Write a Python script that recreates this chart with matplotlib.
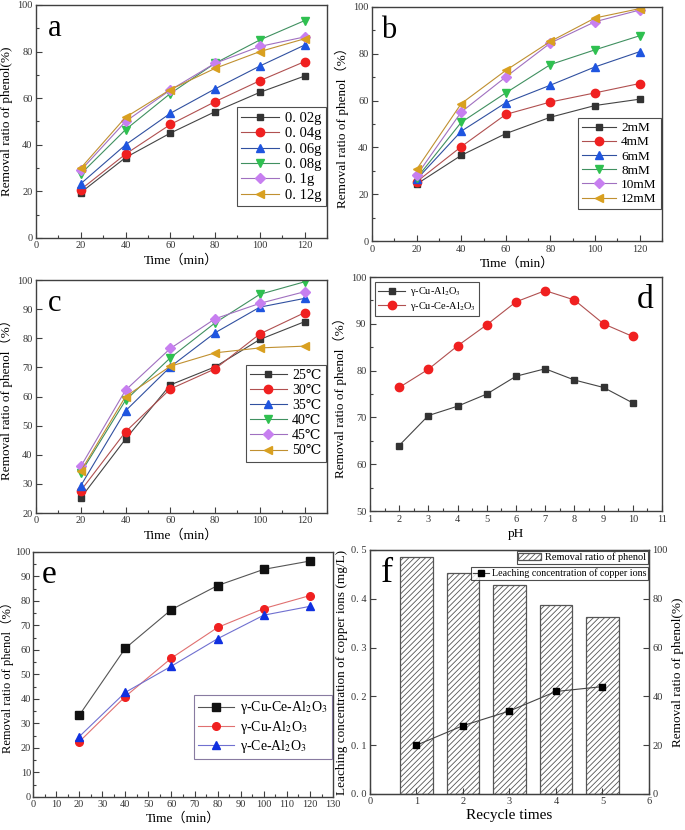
import numpy as np
import matplotlib
matplotlib.use("Agg")
import matplotlib.pyplot as plt
from matplotlib.ticker import MultipleLocator, FixedLocator

plt.rcParams['font.family'] = ['Liberation Serif', 'DejaVu Serif', 'Noto Sans CJK SC']
plt.rcParams['mathtext.fontset'] = 'stix'
plt.rcParams['hatch.linewidth'] = 0.6

# ---------------- data ----------------
time = [20, 40, 60, 80, 100, 120]

# a: catalyst dosage
dose_labels = ["0. 02g", "0. 04g", "0. 06g", "0. 08g", "0. 1g", "0. 12g"]
dose_vals = [
    [19.5, 34.5, 45.0, 54.2, 62.5, 69.5],
    [20.8, 36.0, 48.7, 58.5, 67.5, 75.7],
    [23.3, 40.0, 53.5, 64.0, 73.8, 82.8],
    [27.5, 46.5, 62.0, 75.0, 85.0, 93.3],
    [29.0, 50.0, 63.5, 75.0, 82.2, 86.3],
    [30.0, 51.8, 63.7, 72.8, 80.0, 85.5],
]

# b: H2O2 concentration
conc_labels = ["2mM", "4mM", "6mM", "8mM", "10mM", "12mM"]
conc_vals = [
    [24.3, 36.6, 45.9, 52.9, 57.9, 60.6],
    [25.3, 40.3, 54.1, 59.4, 63.3, 67.3],
    [26.3, 46.9, 59.1, 66.6, 74.4, 80.9],
    [26.8, 50.7, 63.3, 75.4, 81.7, 87.7],
    [28.0, 55.1, 70.1, 84.6, 93.7, 98.7],
    [30.6, 58.7, 72.9, 85.3, 95.3, 99.3],
]

# c: temperature
temp_labels = ["25℃", "30℃", "35℃", "40℃", "45℃", "50℃"]
temp_vals = [
    [25.2, 45.4, 64.0, 70.2, 79.6, 85.7],
    [27.7, 47.9, 62.6, 69.5, 81.5, 88.8],
    [29.4, 55.1, 70.2, 81.9, 90.7, 93.7],
    [33.8, 58.7, 73.3, 85.3, 95.1, 99.4],
    [36.0, 62.2, 76.5, 86.7, 92.0, 96.0],
    [34.4, 60.0, 70.4, 75.0, 76.7, 77.3],
]

# d: pH
ph = [2, 3, 4, 5, 6, 7, 8, 9, 10]
ph_labels = [r"γ-Cu-Al$_2$O$_3$", r"γ-Cu-Ce-Al$_2$O$_3$"]
ph_cu = [64.0, 70.4, 72.4, 75.0, 78.8, 80.4, 78.0, 76.4, 73.1]
ph_cuce = [76.4, 80.3, 85.3, 89.8, 94.7, 97.1, 95.1, 90.0, 87.3]

# e: catalysts
cat_labels = [r"γ-Cu-Ce-Al$_2$O$_3$", r"γ-Cu-Al$_2$O$_3$", r"γ-Ce-Al$_2$O$_3$"]
cat_vals = [
    [33.3, 60.7, 76.5, 86.3, 92.9, 96.3],
    [22.5, 41.0, 56.7, 69.2, 76.9, 82.2],
    [24.6, 42.7, 53.4, 64.6, 74.2, 77.8],
]

# f: recycling
cycles = [1, 2, 3, 4, 5]
removal = [97.0, 90.5, 85.5, 77.5, 72.5]
leaching = [0.10, 0.14, 0.17, 0.21, 0.22]

colors6 = ['#333333', '#f02020', '#1f55e0', '#2fc050', '#c77ff0', '#d9a020']
lcolors6 = ['#444444', '#b05050', '#3050a0', '#409060', '#a070c0', '#c09030']
markers6 = ['s', 'o', '^', 'v', 'D', '<']
msize6 = [5, 6, 6, 6, 5, 6]

TICK = 7.5
LAB = 9.5
axcol = '#404040'


def style(ax):
    for s in ax.spines.values():
        s.set_color(axcol)
        s.set_linewidth(1.0)
    ax.tick_params(which='both', direction='in', labelsize=TICK, colors=axcol,
                   labelcolor='#333333', top=False, right=False, pad=2.5)
    ax.tick_params(which='major', length=4, width=0.8)
    ax.tick_params(which='minor', length=2.5, width=0.8)


def legend(ax, pad=0.6, **kw):
    lg = ax.legend(frameon=True, fancybox=False, edgecolor='#222222',
                   handlelength=2.6, borderpad=0.3, labelspacing=0.15,
                   handletextpad=0.4, borderaxespad=pad, **kw)
    lg.get_frame().set_linewidth(0.8)
    return lg


fig = plt.figure(figsize=(6.85, 8.3), dpi=100)

# ---- a ----
ax = fig.add_axes([0.0526, 0.7133, 0.4248, 0.2807])
for i in range(6):
    ax.plot(time, dose_vals[i], color=lcolors6[i], lw=0.8, marker=markers6[i],
            ms=msize6[i], mfc=colors6[i], mec=colors6[i], label=dose_labels[i])
ax.set_xlim(0, 130)
ax.set_ylim(0, 100)
ax.xaxis.set_major_locator(FixedLocator([0, 20, 40, 60, 80, 100, 120]))
ax.xaxis.set_minor_locator(MultipleLocator(10))
ax.yaxis.set_major_locator(MultipleLocator(20))
ax.yaxis.set_minor_locator(MultipleLocator(10))
style(ax)
ax.set_xlabel("Time（min）", fontsize=LAB, labelpad=3)
ax.set_ylabel("Removal ratio of phenol(%)", fontsize=LAB, labelpad=3)
ax.text(0.04, 0.96, "a", transform=ax.transAxes, fontsize=22, va='top', ha='left')
legend(ax, pad=0.1, loc='lower right', bbox_to_anchor=(1.0, 0.13), fontsize=10.5)

# ---- b ----
ax = fig.add_axes([0.543, 0.7096, 0.4234, 0.282])
for i in range(6):
    ax.plot(time, conc_vals[i], color=lcolors6[i], lw=0.8, marker=markers6[i],
            ms=msize6[i], mfc=colors6[i], mec=colors6[i], label=conc_labels[i])
ax.set_xlim(0, 130)
ax.set_ylim(0, 100)
ax.xaxis.set_major_locator(FixedLocator([0, 20, 40, 60, 80, 100, 120]))
ax.xaxis.set_minor_locator(MultipleLocator(10))
ax.yaxis.set_major_locator(MultipleLocator(20))
ax.yaxis.set_minor_locator(MultipleLocator(10))
style(ax)
ax.set_xlabel("Time（min）", fontsize=LAB, labelpad=3)
ax.set_ylabel("Removal ratio of phenol（%）", fontsize=LAB, labelpad=3)
ax.text(0.03, 0.96, "b", transform=ax.transAxes, fontsize=22, va='top', ha='left')
legend(ax, pad=0.1, loc='lower right', bbox_to_anchor=(1.0, 0.13), fontsize=9.5)

# ---- c ----
ax = fig.add_axes([0.0526, 0.3819, 0.4248, 0.2807])
for i in range(6):
    ax.plot(time, temp_vals[i], color=lcolors6[i], lw=0.8, marker=markers6[i],
            ms=msize6[i], mfc=colors6[i], mec=colors6[i], label=temp_labels[i])
ax.set_xlim(0, 130)
ax.set_ylim(20, 100)
ax.xaxis.set_major_locator(FixedLocator([0, 20, 40, 60, 80, 100, 120]))
ax.xaxis.set_minor_locator(MultipleLocator(10))
ax.yaxis.set_major_locator(MultipleLocator(10))
style(ax)
ax.set_xlabel("Time（min）", fontsize=LAB, labelpad=3)
ax.set_ylabel("Removal ratio of phenol（%）", fontsize=LAB, labelpad=3)
ax.text(0.04, 0.96, "c", transform=ax.transAxes, fontsize=22, va='top', ha='left')
legend(ax, pad=0.1, loc='lower right', bbox_to_anchor=(1.0, 0.215), fontsize=10)

# ---- d ----
ax = fig.add_axes([0.5401, 0.3843, 0.4263, 0.2819])
ax.plot(ph, ph_cu, color='#444444', lw=0.8, marker='s', ms=5,
        mfc='#333333', mec='#333333', label=ph_labels[0])
ax.plot(ph, ph_cuce, color='#b05050', lw=0.8, marker='o', ms=6,
        mfc='#f02020', mec='#f02020', label=ph_labels[1])
ax.set_xlim(1, 11)
ax.set_ylim(50, 100)
ax.xaxis.set_major_locator(MultipleLocator(1))
ax.xaxis.set_minor_locator(MultipleLocator(0.5))
ax.yaxis.set_major_locator(MultipleLocator(10))
ax.yaxis.set_minor_locator(MultipleLocator(5))
style(ax)
ax.set_xlabel("pH", fontsize=LAB, labelpad=3)
ax.set_ylabel("Removal ratio of phenol（%）", fontsize=LAB, labelpad=3)
ax.text(0.97, 0.97, "d", transform=ax.transAxes, fontsize=24, va='top', ha='right')
legend(ax, pad=0.5, loc='upper left', fontsize=7.5)

# ---- e ----
ax = fig.add_axes([0.0482, 0.0398, 0.438, 0.2952])
ecol = ['#111111', '#f02020', '#1030e0']
elcol = ['#555555', '#e07070', '#7070d0']
emk = ['s', 'o', '^']
for i in range(3):
    ax.plot(time, cat_vals[i], color=elcol[i], lw=0.8, marker=emk[i], ms=5.5,
            mfc=ecol[i], mec=ecol[i], label=cat_labels[i])
ax.set_xlim(0, 130)
ax.set_ylim(0, 100)
ax.xaxis.set_major_locator(MultipleLocator(10))
ax.xaxis.set_minor_locator(MultipleLocator(5))
ax.yaxis.set_major_locator(MultipleLocator(10))
ax.yaxis.set_minor_locator(MultipleLocator(5))
style(ax)
ax.tick_params(axis='y', pad=1.5)
ax.set_xlabel("Time（min）", fontsize=LAB, labelpad=2)
ax.set_ylabel("Removal ratio of phenol（%）", fontsize=9, labelpad=1)
ax.text(0.03, 0.97, "e", transform=ax.transAxes, fontsize=24, va='top', ha='left')
lg = legend(ax, pad=0.1, loc='lower right', bbox_to_anchor=(1.0, 0.15), fontsize=10)
lg.get_frame().set_edgecolor('#6a5a8a')

# ---- f ----
ax = fig.add_axes([0.5401, 0.0434, 0.4073, 0.294])
ax2 = ax.twinx()
ax2.bar(cycles, removal, width=0.7, color='white', edgecolor='#555555',
        hatch='//////', lw=0.9, label="Removal ratio of phenol")
ax2.set_ylim(0, 100)
ax2.yaxis.set_major_locator(MultipleLocator(20))
ax.set_zorder(ax2.get_zorder() + 1)
ax.patch.set_visible(False)
ax.plot(cycles, leaching, color='#444444', lw=0.8, marker='s', ms=5,
        mfc='black', mec='black', label="Leaching concentration of copper ions")
ax.set_xlim(0, 6)
ax.set_ylim(0, 0.5)
ax.xaxis.set_major_locator(MultipleLocator(1))
ax.set_yticks([0, 0.1, 0.2, 0.3, 0.4, 0.5])
ax.set_yticklabels(["0. 0", "0. 1", "0. 2", "0. 3", "0. 4", "0. 5"])
style(ax)
for s in ax2.spines.values():
    s.set_color(axcol)
ax2.tick_params(which='both', direction='in', labelsize=TICK, colors=axcol,
                labelcolor='#333333', length=4, width=0.8, pad=2.5)
ax.set_xlabel("Recycle times", fontsize=11, labelpad=2)
ax.set_ylabel("Leaching concentration of copper ions (mg/L)", fontsize=9.5, labelpad=2)
ax2.set_ylabel("Removal ratio of phenol(%)", fontsize=9.5, labelpad=3)
ax.text(0.04, 0.97, "f", transform=ax.transAxes, fontsize=26, va='top', ha='left')
lg2 = ax2.legend(loc='upper right', bbox_to_anchor=(1.0, 1.0), frameon=True, fancybox=False,
                 edgecolor='#222222', fontsize=7.5, borderpad=0.15, handlelength=2.2,
                 handletextpad=0.4, borderaxespad=0.1)
lg2.get_frame().set_linewidth(0.8)
lg1 = ax.legend(loc='upper right', bbox_to_anchor=(1.0, 0.935), frameon=True, fancybox=False,
                edgecolor='#222222', fontsize=7.2, borderpad=0.15, handlelength=1.6,
                handletextpad=0.3, borderaxespad=0.1)
lg1.get_frame().set_linewidth(0.8)

fig.savefig("out.png", dpi=100)
